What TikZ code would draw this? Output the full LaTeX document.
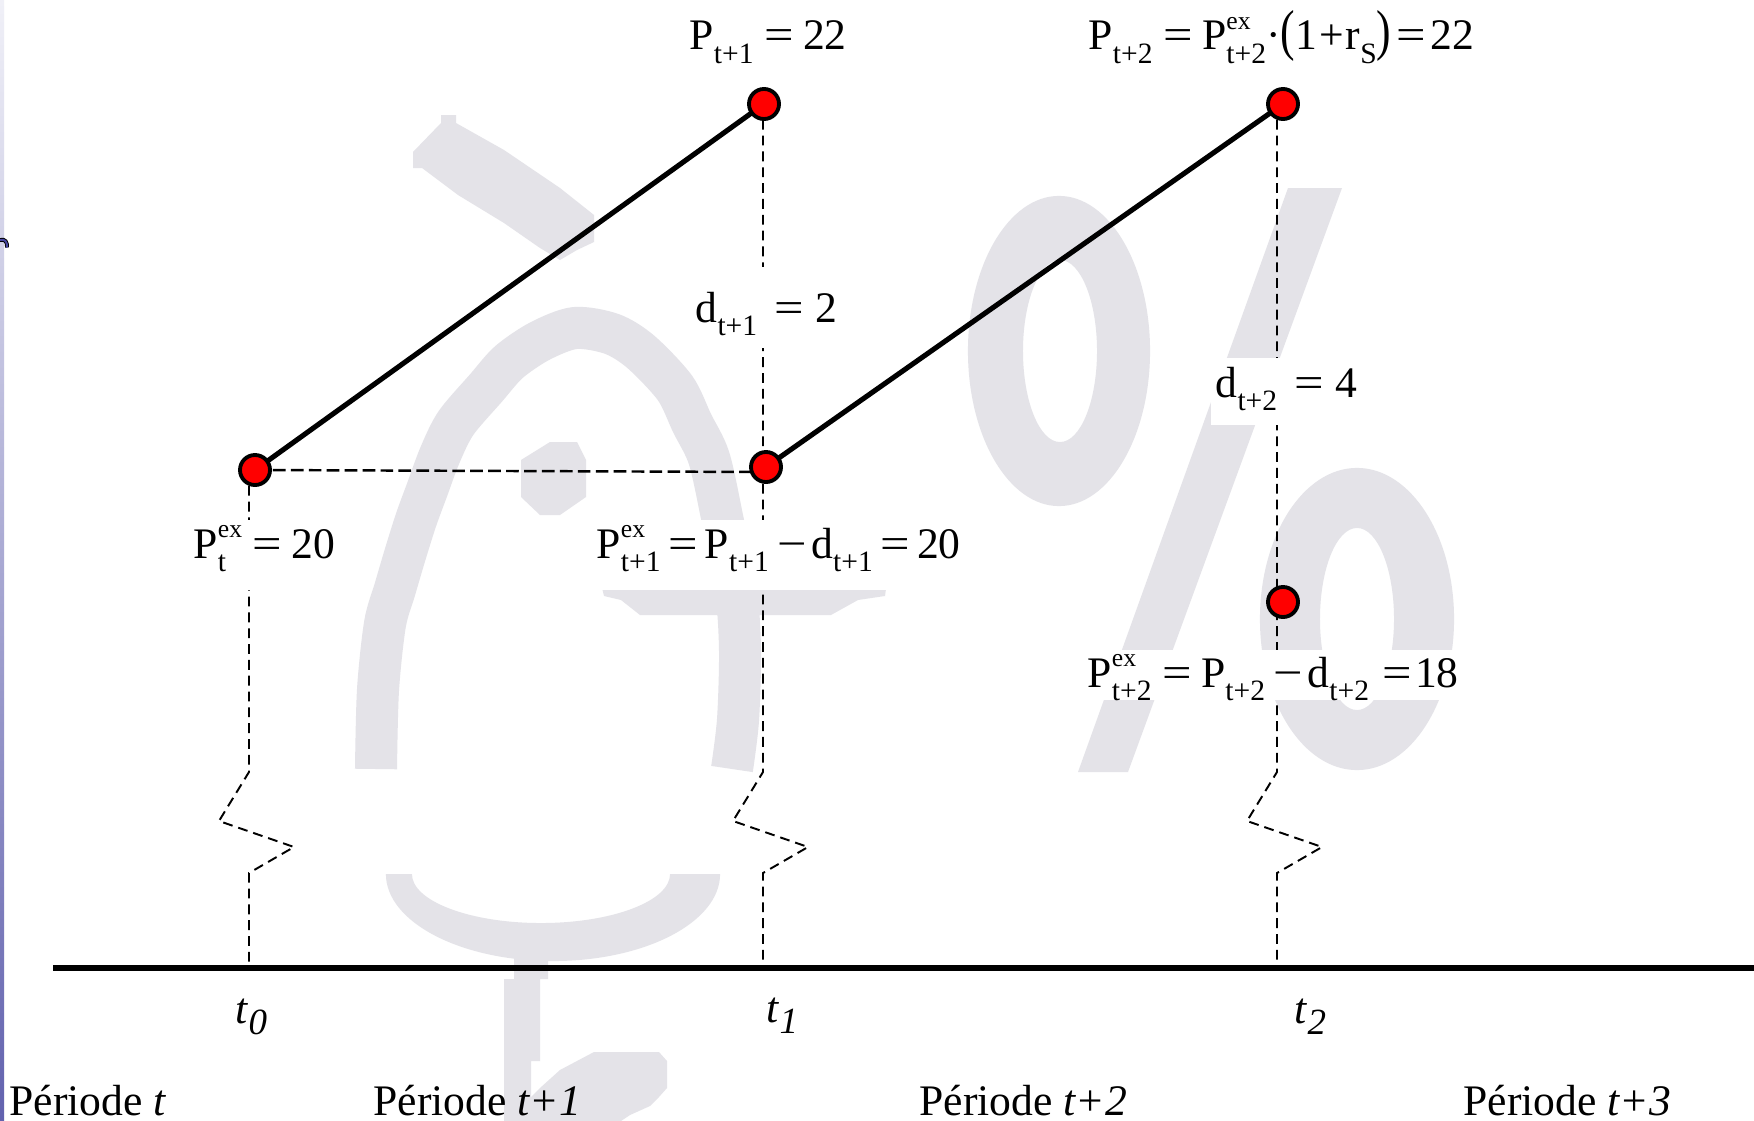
\documentclass[tikz,border=0pt]{standalone}
\usepackage{fontspec}
\setmainfont{Liberation Serif}
\usepackage{graphicx}
\definecolor{wmgray}{RGB}{228,227,232}
\definecolor{dotred}{RGB}{255,0,0}
\definecolor{edgeblue}{RGB}{70,70,160}
\newcommand\sbx[1]{\raisebox{-0.3em}{\fontsize{8.4}{9}\selectfont #1}}
\newcommand\spx[1]{\raisebox{0.48em}{\fontsize{7.3}{8}\selectfont #1}}
\newcommand\eqx{\hspace{0.24em}\scalebox{1.2}[1]{=}\hspace{0.22em}}
\newcommand\eqn{\hspace{0.12em}\scalebox{1.2}[1]{=}\hspace{0.1em}}
\newcommand\eqm{\hspace{0.18em}\scalebox{1.2}[1]{=}\hspace{0.16em}}
\newcommand\eqw{\hspace{0.4em}\scalebox{1.2}[1]{=}\hspace{0.26em}}
\newcommand\mnx{\hspace{0.2em}\scalebox{1.2}[1]{−}\hspace{0.1em}}
\newcommand\tallp[1]{\scalebox{1}[1.29]{#1}}
\newcommand\tsub[1]{\raisebox{-0.27em}{\fontsize{10.5}{12}\selectfont\itshape #1}}
\begin{document}
\begin{tikzpicture}[x=0.01cm, y=-0.01cm,
  wm/.style={fill=wmgray},
  dot/.style={circle, draw=black, fill=dotred, line width=1.1pt, minimum size=0.3cm, inner sep=0pt},
  vdash/.style={line width=0.55pt, dash pattern=on 2.8pt off 1.7pt},
  hdash/.style={line width=0.7pt, dash pattern=on 3.6pt off 1.5pt},
  boldline/.style={line width=1.45pt},
  axisline/.style={line width=1.55pt},
  lbl/.style={font=\fontsize{12.4}{14}\selectfont, inner sep=0pt, anchor=base west},
  boxed/.style={lbl, fill=white, inner xsep=0.05cm}]
\useasboundingbox (0,0) rectangle (1754,1121);
\fill[white] (0,0) rectangle (1754,1121);

% ---------- left edge strip ----------
\shade[top color=white!92!edgeblue, bottom color=edgeblue!85!white] (0,0) rectangle (4,1121);
\draw[line width=1.1pt, black] (0,240) .. controls (5,238.5) and (7.5,242) .. (7,247.5);
\draw[line width=0.55pt, edgeblue] (0,240) .. controls (5,238.5) and (7.5,242) .. (7,247.5);

% ---------- watermark (left symbol) ----------
\fill[wm] (441,115) -- (456,115) -- (456,123) -- (504,150) -- (560,188) -- (594,215)
  -- (594,242) -- (577,250) -- (560,260) -- (540,248) -- (504,223) -- (458,195)
  -- (422,168) -- (413,168) -- (413,152) -- (441,123) -- cycle;
\draw[wmgray, line width=0.42cm] plot[smooth, tension=0.5] coordinates {
  (376,769) (378,690) (385,624) (395,589) (405,555) (416,520) (427,490) (440,455)
  (456,423) (486,388) (509,362) (540,341) (575,328) (612,334) (641,352) (675,388)
  (692,423) (709,458) (722,517) (736,590) (740,650) (738,720) (732,769)};
\fill[wm] (550,442) -- (577,442) -- (586,460) -- (586,497) -- (560,515) -- (540,515)
  -- (521,497) -- (521,460) -- cycle;
\fill[wm] (595,560) -- (890,560) -- (885,596) -- (858,600) -- (831,615) -- (640,615)
  -- (621,600) -- (604,596) -- cycle;
\begin{scope}
  \clip (300,874) rectangle (800,1000);
  \fill[wm, even odd rule] (553,874) ellipse [x radius=1.67cm, y radius=0.87cm]
    (541,874) ellipse [x radius=1.29cm, y radius=0.49cm];
\end{scope}
\fill[wm] (514,955) -- (548,955) -- (548,979) -- (540,979) -- (540,1061) -- (531,1061)
  -- (531,1121) -- (504,1121) -- (504,979) -- (514,979) -- cycle;
\fill[wm] (594,1052) -- (659,1052) -- (667,1061) -- (667,1088) -- (659,1097) -- (650,1106)
  -- (630,1115) -- (621,1121) -- (531,1121) -- (531,1097) -- (540,1088) -- (560,1070)
  -- (577,1061) -- cycle;

% ---------- watermark (percent sign) ----------
\fill[wm, even odd rule] (1059,351) ellipse [x radius=0.91cm, y radius=1.55cm]
  (1060,351) ellipse [x radius=0.37cm, y radius=0.91cm];
\fill[wm] (1288,188) -- (1342,188) -- (1128,772) -- (1078,772) -- cycle;
\fill[wm, even odd rule] (1357,619) ellipse [x radius=0.97cm, y radius=1.51cm]
  (1357,619) ellipse [x radius=0.37cm, y radius=0.91cm];

% ---------- points ----------
\coordinate (pA) at (255,470);
\coordinate (pB) at (764,104);
\coordinate (pC) at (766,467);
\coordinate (pD) at (1283,104);
\coordinate (pE) at (1283,602);

% ---------- axis ----------
\coordinate (axL) at (53,968);
\coordinate (axR) at (1754,968);

% ---------- dashed verticals with break marks ----------
\coordinate (top0) at (249,470);  \coordinate (ax0) at (249,966);
\coordinate (top1) at (763,104);  \coordinate (ax1) at (763,966);
\coordinate (top2) at (1277,104); \coordinate (ax2) at (1277,966);
\draw[vdash] (top0) -- (249,772) -- ++(-30,49) -- ++(75,26) -- ++(-45,26) -- (ax0);
\draw[vdash] (top1) -- (763,772) -- ++(-30,49) -- ++(75,26) -- ++(-45,26) -- (ax1);
\draw[vdash] (top2) -- (1277,772) -- ++(-30,49) -- ++(75,26) -- ++(-45,26) -- (ax2);

\draw[hdash] (pA) -- ([yshift=-0.05cm]pC);

\draw[axisline] (axL) -- (axR);

\draw[boldline] (pA) -- (pB);
\draw[boldline] (pC) -- (pD);

% ---------- labels ----------
\node[lbl] (lb1) at (689,50) {P\sbx{t+1}\eqx 22};
\node[lbl] (lb2) at (1088,50) {P\sbx{t+2}\eqx P\rlap{\spx{ex}}\sbx{t+2}·\tallp{(}1\hspace{0.05em}+\hspace{0.05em}r\sbx{S}\tallp{)}\eqn 22};
\node[boxed, text height=0.55cm, text depth=0.26cm] (lb3) at (690,322) {d\sbx{t+1}\eqw 2};
\node[boxed, text height=0.39cm, text depth=0.28cm] (lb4) at (1210,397) {d\sbx{t+2}\eqw 4};
\node[boxed, text height=0.38cm, text depth=0.32cm] (lb5) at (188,558) {P\rlap{\sbx{t}}\spx{ex}\eqx 20};
\node[boxed, text height=0.38cm, text depth=0.32cm] (lb6) at (591,558) {P\rlap{\spx{ex}}\sbx{t+1}\eqm P\sbx{t+1}\mnx d\sbx{t+1}\eqm 20};
\node[boxed, text height=0.37cm, text depth=0.13cm] (lb7) at (1082,687) {P\rlap{\spx{ex}}\sbx{t+2}\eqx P\sbx{t+2}\mnx d\sbx{t+2}\hspace{0.3em}\scalebox{1.2}[1]{=}\hspace{0.08em}18};

\node[lbl] (lt0) at (235,1023) {\textit{t}\tsub{0}};
\node[lbl] (lt1) at (766,1022) {\textit{t}\tsub{1}};
\node[lbl] (lt2) at (1294,1023) {\textit{t}\tsub{2}};

\node[lbl] (per0) at (9,1115) {Période \textit{t}};
\node[lbl] (per1) at (373,1115) {Période \textit{t+1}};
\node[lbl] (per2) at (919,1115) {Période \textit{t+2}};
\node[lbl] (per3) at (1463,1115) {Période \textit{t+3}};

% ---------- dots ----------
\node[dot] (dA) at (pA) {};
\node[dot] (dB) at (pB) {};
\node[dot] (dC) at (pC) {};
\node[dot] (dD) at (pD) {};
\node[dot] (dE) at (pE) {};
\end{tikzpicture}
\end{document}
